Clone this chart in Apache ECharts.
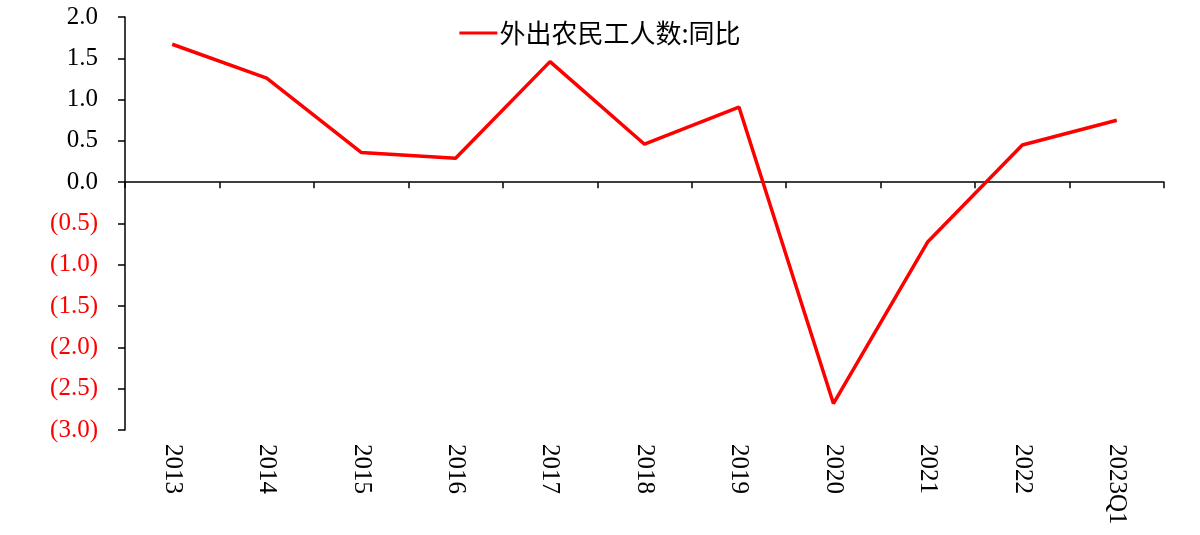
<!DOCTYPE html>
<html>
<head>
<meta charset="utf-8">
<script src="https://cdn.jsdelivr.net/npm/echarts@6/dist/echarts.min.js"></script>
<style>html,body{margin:0;padding:0;background:#fff;}#c{width:1200px;height:535px;}</style>
</head>
<body>
<div id="c"></div>
<script>
var categories = ['2013','2014','2015','2016','2017','2018','2019','2020','2021','2022','2023Q1'];
var seriesName = '外出农民工人数:同比';
var values = [1.67, 1.26, 0.36, 0.29, 1.46, 0.46, 0.91, -2.68, -0.72, 0.45, 0.75];

var chart = echarts.init(document.getElementById('c'));
var serif = '"Liberation Serif", "Times New Roman", serif';
chart.setOption({
  animation: false,
  backgroundColor: '#fff',
  legend: {
    top: 15,
    left: 'center',
    itemWidth: 38,
    itemHeight: 3,
    icon: 'rect',
    textStyle: { fontFamily: '"Noto Sans CJK SC", sans-serif', fontSize: 26, color: '#000', padding: [0, 0, 0, -3] },
    data: [seriesName]
  },
  grid: { left: 125, right: 36, top: 17, bottom: 105 },
  xAxis: [{
    type: 'category',
    data: categories,
    position: 'bottom',
    axisLine: { show: false, onZero: false },
    axisTick: { show: false },
    axisLabel: { rotate: -90, fontFamily: serif, fontSize: 25, color: '#000', margin: 14 }
  }, {
    type: 'category',
    data: categories,
    position: 'top',
    axisLine: { show: true, onZero: true, lineStyle: { color: '#000', width: 1.5 } },
    axisTick: { show: true, inside: true, length: 6, lineStyle: { color: '#000', width: 1.5 } },
    axisLabel: { show: false }
  }],
  yAxis: {
    type: 'value',
    min: -3, max: 2, interval: 0.5,
    axisLine: { show: true, lineStyle: { color: '#000', width: 1.5 } },
    axisTick: { show: true, length: 7, lineStyle: { color: '#000', width: 1.5 } },
    splitLine: { show: false },
    axisLabel: {
      fontFamily: serif, fontSize: 25, margin: 27,
      formatter: function (v) { return v < 0 ? '(' + Math.abs(v).toFixed(1) + ')' : v.toFixed(1); },
      color: function (v) { return Number(v) < 0 ? '#FF0000' : '#000'; }
    }
  },
  series: [{
    name: seriesName,
    type: 'line',
    xAxisIndex: 0,
    data: values,
    symbol: 'none',
    lineStyle: { color: '#FF0000', width: 3.5 },
    itemStyle: { color: '#FF0000' }
  }]
});
</script>
</body>
</html>
